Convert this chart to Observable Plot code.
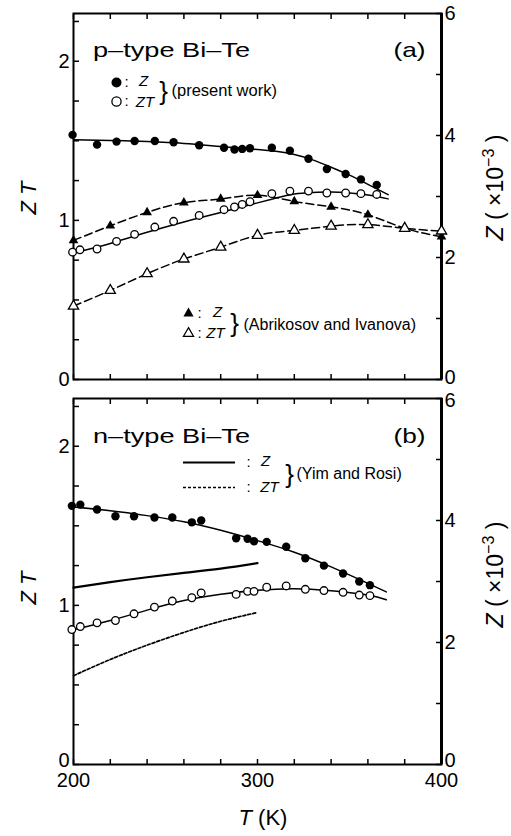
<!DOCTYPE html>
<html><head><meta charset="utf-8">
<script src="https://cdn.jsdelivr.net/npm/d3@7"></script>
<script src="https://cdn.jsdelivr.net/npm/@observablehq/plot@0.6"></script>
<style>
body{margin:0;background:#fff;}
#chart{width:511px;height:836px;}
#chart svg{display:block;overflow:visible;}
</style></head><body><div id="chart"></div>
<script>
// ---------- scale helpers / tick labels ----------
const K = 2.3 / 6;                 // Z (×10^-3) on right axis -> ZT units on left axis
const xTicks = d3.range(200, 401, 20);
const xLabels = [200, 300, 400];
const zTTicks = d3.range(0, 2.3, 0.25);
const zTLabels = [0, 1, 2];
const zTicks = [0, 1, 2, 3, 4, 5, 6];
const zLabels = [0, 2, 4, 6];

// ---------- (a) p-type Bi-Te, present work ----------
const pZ_T  = [199.5, 212.8, 223.4, 233.2, 244.2, 254.4, 268.3, 281.8, 287.5, 291.7, 295.9, 307.8, 317.6, 327.7, 337.7, 347.9, 356.2, 364.8];
const pZ    = [4.01, 3.85, 3.90, 3.91, 3.91, 3.89, 3.84, 3.80, 3.77, 3.78, 3.79, 3.80, 3.75, 3.62, 3.45, 3.37, 3.28, 3.19];
const pZT_T = [199.5, 203.5, 212.8, 223.4, 233.2, 244.2, 254.4, 268.3, 281.8, 287.5, 291.7, 295.9, 307.8, 317.6, 327.7, 337.7, 347.9, 356.2, 364.8];
const pZT   = [0.80, 0.815, 0.82, 0.868, 0.912, 0.958, 0.994, 1.031, 1.067, 1.084, 1.10, 1.117, 1.168, 1.184, 1.184, 1.172, 1.172, 1.168, 1.163];
const pFitT  = [200, 220, 240, 260, 280, 300, 310, 320, 330, 340, 350, 360, 371];
const pFitZ  = [3.93, 3.92, 3.90, 3.87, 3.82, 3.77, 3.74, 3.69, 3.60, 3.48, 3.35, 3.20, 3.03];
const pFitZT = [0.795, 0.855, 0.925, 0.99, 1.05, 1.11, 1.14, 1.165, 1.175, 1.178, 1.172, 1.16, 1.135];
// Abrikosov and Ivanova
const aT  = [200, 220, 240, 260, 280, 300, 320, 340, 360, 380, 400];
const aZ  = [2.28, 2.52, 2.74, 2.90, 2.96, 3.02, 2.92, 2.83, 2.70, 2.48, 2.34];
const aZT = [0.461, 0.56, 0.665, 0.757, 0.832, 0.906, 0.937, 0.964, 0.973, 0.95, 0.933];

// ---------- (b) n-type Bi-Te, present work ----------
const nT   = [199.1, 203.7, 212.8, 222.8, 232.9, 244.0, 253.7, 264.3, 269.4, 288.4, 294.6, 298.1, 305.0, 315.6, 326.0, 336.1, 346.5, 355.3, 361.1];
const nZ   = [4.24, 4.26, 4.18, 4.07, 4.07, 4.05, 4.05, 3.97, 4.00, 3.71, 3.70, 3.66, 3.65, 3.57, 3.38, 3.26, 3.13, 3.00, 2.94];
const nZT  = [0.848, 0.867, 0.89, 0.905, 0.947, 0.989, 1.027, 1.048, 1.078, 1.069, 1.088, 1.088, 1.114, 1.122, 1.101, 1.093, 1.082, 1.065, 1.061];
const nFitT  = [200, 220, 240, 260, 280, 300, 320, 340, 360, 370];
const nFitZ  = [4.22, 4.16, 4.08, 3.98, 3.84, 3.67, 3.48, 3.24, 2.97, 2.83];
const nFitZT = [0.846, 0.905, 0.97, 1.03, 1.07, 1.095, 1.105, 1.092, 1.065, 1.035];
// Yim and Rosi
const yT  = [200, 220, 240, 260, 280, 300];
const yZ  = [2.90, 2.99, 3.07, 3.14, 3.21, 3.30];
const yZT = [0.558, 0.66, 0.75, 0.83, 0.90, 0.955];

// ---------- labels ----------
const titleA = "p–type Bi–Te", titleB = "n–type Bi–Te";
const tagA = "(a)", tagB = "(b)";
const leftLabel = "Z T", rightLabel = "Z (×10-3)", xLabel = "T (K)";
const presentLabel = "(present work)", abrLabel = "(Abrikosov and Ivanova)", yimLabel = "(Yim and Rosi)";

const rows = (T, a, b) => T.map((t, i) => ({T: t, Z: a ? a[i] : null, ZT: b ? b[i] : null}));
const FONT = "'Liberation Sans', Arial, Helvetica, sans-serif";
const isLabel = (list, d) => list.some(v => Math.abs(v - d) < 1e-9);

// panel: "a" (upper) or "b" (lower); edge labels nudged apart where the panels meet
function axes(panel) {
  const lower = panel === "b";
  const skipRight = v => (lower && (v === 0 || v === 6)) || (!lower && v === 0);
  const marks = [
    Plot.frame({strokeWidth: 2}),
    Plot.ruleX([400], {strokeWidth: 3}),
    Plot.axisY({anchor: "left", ticks: zTTicks, tickSize: -6, tickPadding: 10, strokeWidth: 1.5,
      tickFormat: d => isLabel(zTLabels, d) && !(lower && d === 0) ? String(Math.round(d)) : "", label: null}),
    Plot.axisY({anchor: "right", ticks: zTicks.map(v => v * K), tickSize: -6, tickPadding: 9, strokeWidth: 1.5,
      tickFormat: d => { const v = Math.round(d / K); return zLabels.includes(v) && !skipRight(v) ? String(v) : ""; }, label: null}),
    Plot.axisX({anchor: "top", ticks: xTicks, tickSize: -5, strokeWidth: 1.5, tickFormat: () => "", label: null}),
    Plot.axisX({anchor: "bottom", ticks: xTicks, tickSize: -5, tickPadding: 13, strokeWidth: 1.5,
      tickFormat: lower ? (d => xLabels.includes(d) ? String(d) : "") : () => "", label: null})
  ];
  if (lower) {
    marks.push(
      Plot.axisY({anchor: "left", ticks: [0], tickSize: 0, tickPadding: 4, dy: -4, tickFormat: () => "0", label: null}),
      Plot.axisY({anchor: "right", ticks: [0], tickSize: 0, tickPadding: 3, dy: -4, tickFormat: () => "0", label: null}),
      Plot.axisY({anchor: "right", ticks: [6 * K], tickSize: 0, tickPadding: 3, dy: 2, tickFormat: () => "6", label: null})
    );
  } else {
    marks.push(
      Plot.axisY({anchor: "right", ticks: [0], tickSize: 0, tickPadding: 3, dy: -2, tickFormat: () => "0", label: null})
    );
  }
  return marks;
}
const txt = (s, o) => Plot.text([s], {text: d => d, frameAnchor: "top-left", textAnchor: "middle", lineAnchor: "middle", fill: "black", ...o});

function sideLabels(dyL, dyR) {
  return [
    Plot.text([leftLabel], {text: d => d, frameAnchor: "left", textAnchor: "middle", lineAnchor: "middle", dx: -44.5, dy: dyL, rotate: -90, fontSize: 22, fontStyle: "italic"}),
    Plot.text([rightLabel], {text: d => d, frameAnchor: "right", textAnchor: "middle", lineAnchor: "middle", dx: 54, dy: dyR, rotate: -90, fontSize: 23})
  ];
}

const base = {
  width: 511, marginLeft: 73, marginRight: 70,
  x: {domain: [200, 400]},
  y: {domain: [0, 2.3]},
  style: {fontFamily: FONT, fontSize: "20px", background: "white", color: "black", overflow: "visible"}
};

const pPts = rows(pZ_T, pZ, null), pOpen = rows(pZT_T, null, pZT);
const pFit = rows(pFitT, pFitZ, pFitZT);
const aRows = rows(aT, aZ, aZT);

const plotA = Plot.plot({
  ...base, height: 390, marginTop: 13, marginBottom: 11,
  marks: [
    ...axes("a"),
    Plot.line(pFit, {x: "T", y: d => d.Z * K, curve: "natural", strokeWidth: 1.5}),
    Plot.line(pFit, {x: "T", y: "ZT", curve: "natural", strokeWidth: 1.5}),
    Plot.line(aRows, {x: "T", y: d => d.Z * K, curve: "natural", strokeWidth: 1.5, strokeDasharray: "8,4"}),
    Plot.line(aRows, {x: "T", y: "ZT", curve: "natural", strokeWidth: 1.5, strokeDasharray: "8,4"}),
    Plot.dot(pPts, {x: "T", y: d => d.Z * K, r: 4.2, fill: "black"}),
    Plot.dot(pOpen, {x: "T", y: "ZT", r: 3.8, fill: "white", stroke: "black", strokeWidth: 1.3}),
    Plot.dot(aRows, {x: "T", y: d => d.Z * K, r: 3.6, symbol: "triangle", fill: "black"}),
    Plot.dot(aRows, {x: "T", y: "ZT", r: 3.8, symbol: "triangle", fill: "white", stroke: "black", strokeWidth: 1.3}),
    // annotations
    txt(titleA, {dx: 19.5, dy: 43, lineAnchor: "bottom", textAnchor: "start", fontSize: 21}),
    txt(tagA, {frameAnchor: "top-right", dx: -16, dy: 43, lineAnchor: "bottom", textAnchor: "end", fontSize: 21}),
    Plot.dot([0], {frameAnchor: "top-left", dx: 43, dy: 69, r: 5, fill: "black"}),
    Plot.dot([0], {frameAnchor: "top-left", dx: 43, dy: 88, r: 4.6, fill: "white", stroke: "black", strokeWidth: 1.3}),
    txt(":", {dx: 53, dy: 69, fontSize: 15}),
    txt(":", {dx: 53, dy: 88, fontSize: 15}),
    txt("Z", {dx: 70, dy: 68, fontSize: 15, fontStyle: "italic"}),
    txt("ZT", {dx: 71.5, dy: 89, fontSize: 15, fontStyle: "italic"}),
    txt("}", {dx: 90, dy: 78, fontSize: 26}),
    txt(presentLabel, {dx: 98, dy: 77, fontSize: 16.5, textAnchor: "start"}),
    Plot.dot([0], {frameAnchor: "top-left", dx: 115, dy: 300, r: 3.8, symbol: "triangle", fill: "black"}),
    Plot.dot([0], {frameAnchor: "top-left", dx: 115, dy: 320, r: 3.8, symbol: "triangle", fill: "white", stroke: "black", strokeWidth: 1.2}),
    txt(":", {dx: 126, dy: 300, fontSize: 15}),
    txt(":", {dx: 126, dy: 320, fontSize: 15}),
    txt("Z", {dx: 144, dy: 299, fontSize: 15, fontStyle: "italic"}),
    txt("ZT", {dx: 142, dy: 320, fontSize: 15, fontStyle: "italic"}),
    txt("}", {dx: 161, dy: 310, fontSize: 26}),
    txt(abrLabel, {dx: 170, dy: 311, fontSize: 16, textAnchor: "start"}),
    ...sideLabels(1.5, -9)
  ]
});

const nPts = rows(nT, nZ, nZT);
const nFit = rows(nFitT, nFitZ, nFitZT);
const yRows = rows(yT, yZ, yZT);

const plotB = Plot.plot({
  ...base, height: 446, marginTop: 8, marginBottom: 72,
  marks: [
    ...axes("b"),
    Plot.line(yRows, {x: "T", y: d => d.Z * K, curve: "natural", strokeWidth: 2.2}),
    Plot.line(yRows, {x: "T", y: "ZT", curve: "natural", strokeWidth: 1.7, strokeDasharray: "3,2"}),
    Plot.line(nFit, {x: "T", y: d => d.Z * K, curve: "natural", strokeWidth: 1.5}),
    Plot.line(nFit, {x: "T", y: "ZT", curve: "natural", strokeWidth: 1.5}),
    Plot.dot(nPts, {x: "T", y: d => d.Z * K, r: 4.2, fill: "black"}),
    Plot.dot(nPts, {x: "T", y: "ZT", r: 3.8, fill: "white", stroke: "black", strokeWidth: 1.3}),
    txt(titleB, {dx: 19.5, dy: 44.7, lineAnchor: "bottom", textAnchor: "start", fontSize: 21}),
    txt(tagB, {frameAnchor: "top-right", dx: -16, dy: 44.7, lineAnchor: "bottom", textAnchor: "end", fontSize: 21}),
    Plot.ruleY([2.3], {dy: 64, insetLeft: 110, insetRight: 206, strokeWidth: 2.2}),
    Plot.ruleY([2.3], {dy: 89, insetLeft: 110, insetRight: 206, strokeWidth: 1.7, strokeDasharray: "3,2"}),
    txt(":", {dx: 175, dy: 64, fontSize: 15}),
    txt(":", {dx: 175, dy: 89, fontSize: 15}),
    txt("Z", {dx: 192, dy: 63, fontSize: 15, fontStyle: "italic"}),
    txt("ZT", {dx: 196, dy: 89, fontSize: 15, fontStyle: "italic"}),
    txt("}", {dx: 216, dy: 76, fontSize: 26}),
    txt(yimLabel, {dx: 223, dy: 75, fontSize: 16, textAnchor: "start"}),
    ...sideLabels(6.5, -7),
    Plot.text([xLabel], {text: d => d, frameAnchor: "bottom", textAnchor: "middle", lineAnchor: "middle", dx: 5.5, dy: 53.5, fontSize: 22})
  ]
});

const host = document.getElementById("chart");
host.appendChild(plotA);
host.appendChild(plotB);

// ---------- typographic post-processing ----------
function fix(svg) {
  const add = (t, str, attrs) => { const ts = document.createElementNS("http://www.w3.org/2000/svg", "tspan"); ts.textContent = str; for (const k in attrs) ts.setAttribute(k, attrs[k]); t.appendChild(ts); };
  svg.querySelectorAll("text").forEach(t => {
    const s = t.textContent;
    if (s === titleA || s === titleB) { t.setAttribute("textLength", 157); t.setAttribute("lengthAdjust", "spacingAndGlyphs"); }
    if (s === tagA || s === tagB) { t.setAttribute("textLength", 32); t.setAttribute("lengthAdjust", "spacingAndGlyphs"); }
    if (s === rightLabel) {
      t.textContent = "";
      add(t, "Z", {"font-style": "italic"});
      add(t, " ( ×10", {});
      add(t, "−3", {"dy": "-0.55em", "font-size": "16"});
      add(t, " )", {"dy": "0.38em"});
    }
    if (s === xLabel) {
      t.textContent = "";
      add(t, "T", {"font-style": "italic"});
      add(t, " (K)", {});
    }
  });
}
fix(plotA); fix(plotB);
</script>
</body></html>
